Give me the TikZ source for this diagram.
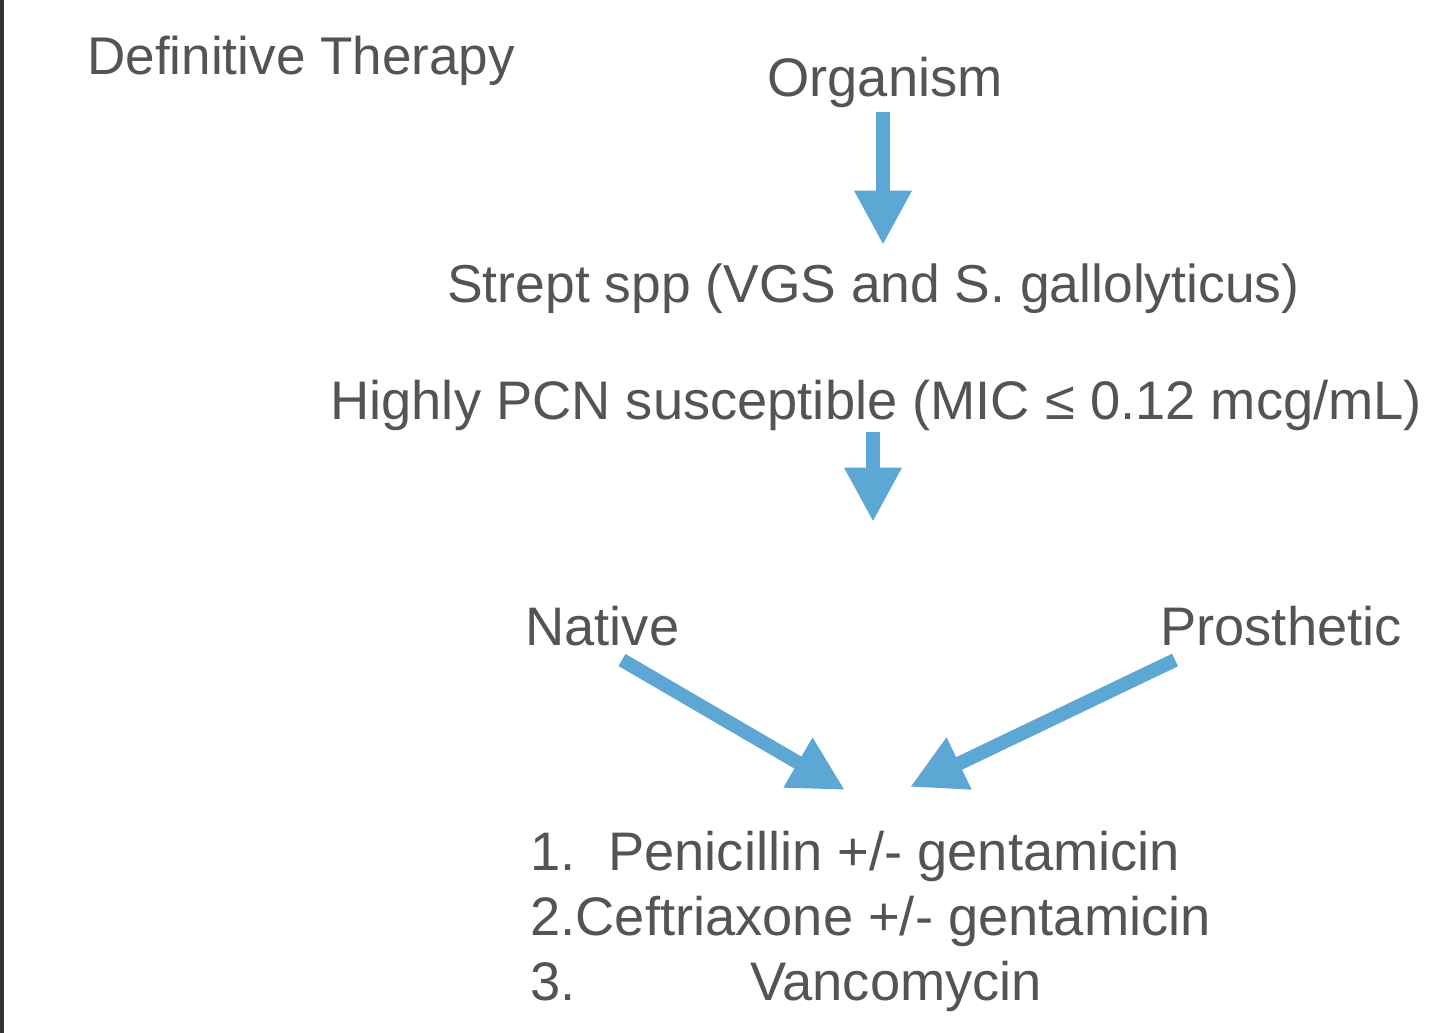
\documentclass[tikz,border=0pt]{standalone}
\usepackage{fontspec}
\setmainfont{Liberation Sans}
\usepackage{xcolor}
\usetikzlibrary{arrows.meta, positioning}

\definecolor{slidegray}{RGB}{84,84,84}
\definecolor{arrowblue}{RGB}{92,167,212}

\begin{document}
\begin{tikzpicture}[x=0.02cm,y=-0.02cm,
    txt/.style={anchor=base west, inner sep=0pt, text=slidegray,
      font=\fontsize{30.9}{37}\selectfont},
    bigarrow/.style={draw=arrowblue, line width=7.9pt,
      -{Triangle[length=31pt,width=30.6pt]}},
  ]
    % frame
    \useasboundingbox (0,0) rectangle (1440,1033);
    \fill[white] (0,0) rectangle (1440,1033);
    \fill[black!80] (0,0) rectangle (4,1033);

    % title
    \node[txt, font=\fontsize{30.2}{36}\selectfont] (title) at (87,75) {Definitive Therapy};

    % flow texts
    \node[txt] (org) at (767,97) {Organism};
    \node[txt, font=\fontsize{30.4}{37}\selectfont] (strep) at (447,303) {Strept spp (VGS and S. gallolyticus)};
    \node[txt] (pcn) at (330,420) {Highly PCN susceptible (MIC ≤ 0.12 mcg/mL)};
    \node[txt] (native) at (525,645) {Native};
    \node[txt] (prosth) at (1160,645) {Prosthetic};

    % treatment list
    \node[txt] (n1) at (530,870) {1.};
    \node[txt] (pen) at (608,870) {Penicillin +/- gentamicin};
    \node[txt] (cef) at (530,935) {2.Ceftriaxone +/- gentamicin};
    \node[txt] (n3) at (530,1000) {3.};
    \node[txt] (vanco) at (750,1000) {Vancomycin};

    % arrow ends
    \coordinate (orgTail) at (883,112);
    \coordinate (orgTip) at (883,245);
    \coordinate (pcnTail) at (873,432);
    \coordinate (pcnTip) at (873,522);
    \coordinate (natTail) at (622,660);
    \coordinate (natTip) at (845,790);
    \coordinate (proTail) at (1175,660);
    \coordinate (proTip) at (910,787);

    % arrows
    \draw[bigarrow] (orgTail) -- (orgTip);
    \draw[bigarrow] (pcnTail) -- (pcnTip);
    \draw[bigarrow] (natTail) -- (natTip);
    \draw[bigarrow] (proTail) -- (proTip);
  \end{tikzpicture}
\end{document}
